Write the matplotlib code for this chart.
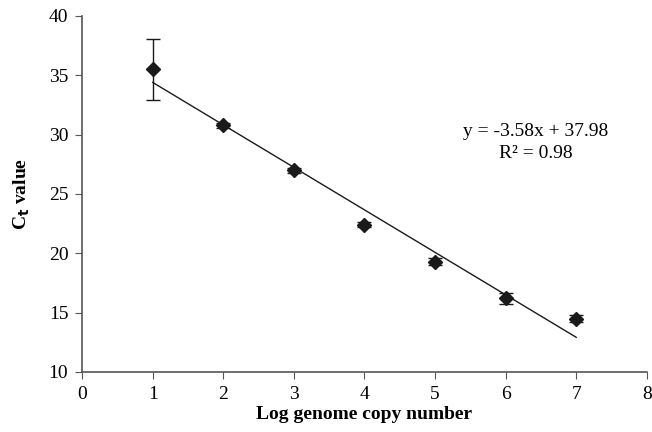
import numpy as np
import matplotlib.pyplot as plt

plt.rcParams['font.family'] = ['Liberation Serif', 'DejaVu Serif']

# Data
log_copies = [1, 2, 3, 4, 5, 6, 7]
ct_mean = [35.5, 30.8, 27.0, 22.4, 19.3, 16.2, 14.5]
ct_err = [2.55, 0.2, 0.2, 0.2, 0.3, 0.45, 0.3]
slope = -3.58
intercept = 37.98
r2 = 0.98

fig = plt.figure(figsize=(6.52, 4.32), dpi=100)
ax = fig.add_axes([0.126, 0.139, 0.866, 0.824])

ax.errorbar(log_copies, ct_mean, yerr=ct_err, fmt='D', color='#1a1a1a',
            markersize=7.5, ecolor='#1a1a1a', elinewidth=1, capsize=5, capthick=1, zorder=3)

# Linear trend line
xl = np.array([log_copies[0], log_copies[-1]])
ax.plot(xl, slope * xl + intercept, color='#1a1a1a', lw=1)

ax.text(6.43, 30.3, 'y = %.2fx + %.2f' % (slope, intercept), fontsize=14,
        ha='center', va='center')
ax.text(6.43, 28.4, 'R\u00b2 = %.2f' % r2, fontsize=14,
        ha='center', va='center')

ax.set_xlim(0, 8)
ax.set_ylim(10, 40)
ax.set_xticks(range(0, 9))
ax.set_yticks(range(10, 41, 5))
ax.tick_params(labelsize=14, direction='out', length=5, color='#555555', pad=5)
for s in ['top', 'right']:
    ax.spines[s].set_visible(False)
for s in ['left', 'bottom']:
    ax.spines[s].set_color('#555555')
    ax.spines[s].set_linewidth(1.2)

ax.set_xlabel('Log genome copy number', fontsize=14, fontweight='bold', labelpad=2)
ax.set_ylabel(r'C$_\mathbf{t}$ value', fontsize=14, fontweight='bold', labelpad=12)

fig.savefig('out.png', dpi=100)
